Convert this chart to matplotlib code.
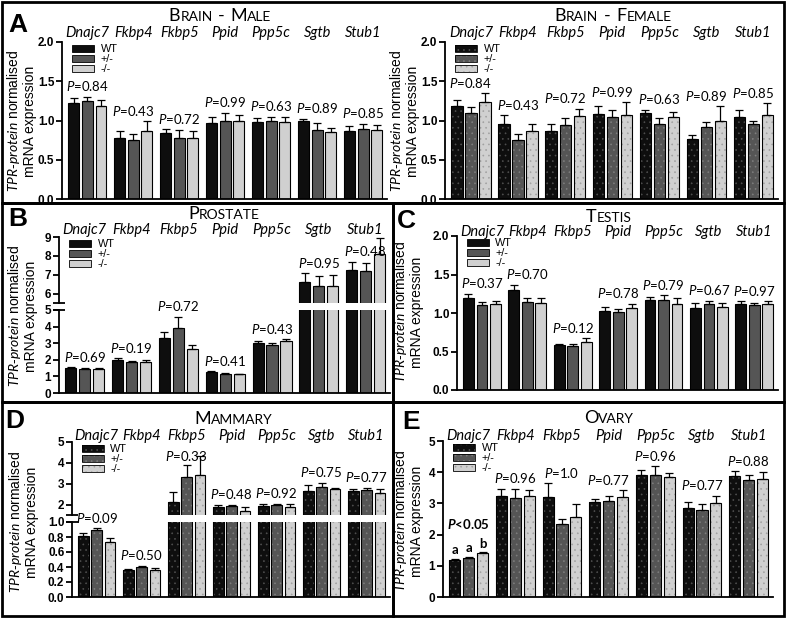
import numpy as np
import matplotlib
matplotlib.use("Agg")
import matplotlib.pyplot as plt
from matplotlib.patches import Patch, Rectangle
from matplotlib.offsetbox import TextArea, HPacker, AnnotationBbox
from matplotlib.transforms import blended_transform_factory

plt.rcParams['font.family'] = 'Liberation Sans'
plt.rcParams['mathtext.fontset'] = 'custom'
plt.rcParams['mathtext.rm'] = 'Lato'
plt.rcParams['mathtext.it'] = 'Lato:italic'
plt.rcParams['mathtext.bf'] = 'Lato:bold'
plt.rcParams['mathtext.bfit'] = 'Lato:italic:bold'
plt.rcParams['hatch.linewidth'] = 0.45

W, H = 787, 618

genes = ["Dnajc7", "Fkbp4", "Fkbp5", "Ppid", "Ppp5c", "Sgtb", "Stub1"]
genotypes = ["WT", "+/-", "-/-"]

# rows: WT, +/-, -/-
brain_male_mean = [[1.22, 0.78, 0.84, 0.97, 0.98, 0.99, 0.87],
                   [1.25, 0.75, 0.78, 1.00, 0.99, 0.88, 0.89],
                   [1.19, 0.87, 0.78, 1.00, 0.98, 0.85, 0.88]]
brain_male_sem = [[0.07, 0.08, 0.05, 0.08, 0.05, 0.03, 0.06],
                  [0.05, 0.08, 0.10, 0.10, 0.05, 0.09, 0.07],
                  [0.07, 0.12, 0.09, 0.07, 0.07, 0.06, 0.06]]
brain_male_p = ["0.84", "0.43", "0.72", "0.99", "0.63", "0.89", "0.85"]

brain_female_mean = [[1.19, 0.96, 0.87, 1.08, 1.09, 0.76, 1.05],
                     [1.09, 0.75, 0.94, 1.04, 0.96, 0.92, 0.96],
                     [1.23, 0.86, 1.06, 1.07, 1.05, 1.00, 1.07]]
brain_female_sem = [[0.07, 0.11, 0.09, 0.10, 0.05, 0.05, 0.09],
                    [0.08, 0.08, 0.09, 0.09, 0.07, 0.06, 0.04],
                    [0.12, 0.10, 0.09, 0.16, 0.06, 0.18, 0.15]]
brain_female_p = ["0.84", "0.43", "0.72", "0.99", "0.63", "0.89", "0.85"]

prostate_mean = [[1.50, 1.96, 3.30, 1.24, 3.00, 6.60, 7.25],
                 [1.44, 1.86, 3.94, 1.14, 2.90, 6.38, 7.22],
                 [1.42, 1.84, 2.66, 1.14, 3.14, 6.38, 8.10]]
prostate_sem = [[0.06, 0.12, 0.40, 0.08, 0.14, 0.49, 0.42],
                [0.08, 0.08, 0.66, 0.04, 0.10, 0.57, 0.38],
                [0.08, 0.16, 0.24, 0.02, 0.10, 0.62, 0.83]]
prostate_p = ["0.69", "0.19", "0.72", "0.41", "0.43", "0.95", "0.48"]

testis_mean = [[1.19, 1.30, 0.59, 1.02, 1.17, 1.06, 1.12],
               [1.10, 1.14, 0.57, 1.01, 1.17, 1.12, 1.11],
               [1.12, 1.13, 0.62, 1.06, 1.12, 1.08, 1.12]]
testis_sem = [[0.06, 0.07, 0.01, 0.06, 0.04, 0.07, 0.03],
              [0.04, 0.06, 0.03, 0.04, 0.06, 0.04, 0.02],
              [0.04, 0.07, 0.05, 0.06, 0.07, 0.05, 0.03]]
testis_p = ["0.37", "0.70", "0.12", "0.78", "0.79", "0.67", "0.97"]

mammary_mean = [[0.81, 0.36, 2.13, 1.88, 1.92, 2.63, 2.66],
                [0.89, 0.40, 3.30, 1.92, 1.97, 2.86, 2.70],
                [0.74, 0.36, 3.43, 1.68, 1.90, 2.74, 2.55]]
mammary_sem = [[0.05, 0.02, 0.45, 0.08, 0.13, 0.30, 0.10],
               [0.03, 0.02, 0.60, 0.07, 0.04, 0.18, 0.10],
               [0.05, 0.03, 0.89, 0.20, 0.15, 0.07, 0.18]]
mammary_p = ["0.09", "0.50", "0.33", "0.48", "0.92", "0.75", "0.77"]

ovary_mean = [[1.19, 3.23, 3.20, 3.05, 3.90, 2.85, 3.88],
              [1.25, 3.17, 2.33, 3.08, 3.92, 2.78, 3.76],
              [1.40, 3.25, 2.55, 3.22, 3.84, 3.00, 3.77]]
ovary_sem = [[0.02, 0.24, 0.45, 0.10, 0.18, 0.18, 0.15],
             [0.03, 0.30, 0.18, 0.15, 0.27, 0.20, 0.14],
             [0.03, 0.17, 0.42, 0.20, 0.12, 0.25, 0.24]]
ovary_p = ["<0.05", "0.96", "1.0", "0.77", "0.96", "0.77", "0.88"]
ovary_letters = ["a", "a", "b"]

fills = ["#0e0e0e", "#555555", "#d0d0d0"]
dot_colors = ["#505050", "#7e7e7e", "#a0a0a0"]
group_step = 3.36
bar_w = 0.8
ylabel_txt = r"$\mathit{TPR}$-$\mathit{protein}$ normalised" + "\nmRNA expression"

fig = plt.figure(figsize=(W / 100, H / 100), dpi=100)


def px_rect(x0, y0, x1, y1):
    return [x0 / W, 1 - y1 / H, (x1 - x0) / W, (y1 - y0) / H]


def style_axes(ax, ylim, ticks, fmt, bottom=True):
    ax.set_ylim(*ylim)
    ax.set_xlim(-1.85, 6 * group_step + 1.75)
    ax.set_yticks(ticks)
    ax.set_yticklabels([fmt % t for t in ticks], fontsize=8.5, fontweight='bold')
    ax.set_xticks([])
    for s in ['top', 'right']:
        ax.spines[s].set_visible(False)
    ax.spines['left'].set_linewidth(1.3)
    ax.spines['bottom'].set_linewidth(1.3)
    ax.spines['bottom'].set_visible(bottom)
    ax.tick_params(axis='y', length=4, width=1.3, pad=1.5)
    ax.patch.set_alpha(0)


def draw_bars(ax, mean, sem, dots):
    gx = np.arange(len(genes)) * group_step
    for k in range(3):
        x = gx + (k - 1)
        m = np.array(mean[k])
        e = np.array(sem[k])
        if dots:
            ax.bar(x, m, bar_w, color=fills[k], edgecolor=dot_colors[k], hatch='...', linewidth=0)
            ax.bar(x, m, bar_w, fill=False, edgecolor='black', linewidth=0.8)
        else:
            ax.bar(x, m, bar_w, color=fills[k], edgecolor='black', linewidth=0.8)
        ax.errorbar(x, m, yerr=[np.zeros_like(e), e], fmt='none', ecolor='black',
                    elinewidth=0.9, capsize=2.6, capthick=0.9)


def add_legend(ax, dots):
    handles = []
    for k in range(3):
        if dots:
            handles.append((Patch(facecolor=fills[k], edgecolor=dot_colors[k], hatch='...', linewidth=0),
                            Patch(fill=False, edgecolor='black', linewidth=0.6)))
        else:
            handles.append(Patch(facecolor=fills[k], edgecolor='black', linewidth=0.6))
    ax.legend(handles, genotypes, loc='upper left', bbox_to_anchor=(0.025, 1.0), frameon=False,
              fontsize=7.8, handlelength=2.0, handleheight=0.6, labelspacing=0.0,
              handletextpad=0.6, borderpad=0.1, borderaxespad=0.1)


def smallcaps(text, cx, by):
    words = []
    for w in text.split(" "):
        parts = [TextArea(w[0].upper(), textprops=dict(fontsize=13, family='Lato'))]
        if len(w) > 1:
            parts.append(TextArea(w[1:].upper(), textprops=dict(fontsize=10, family='Lato')))
        words.append(HPacker(children=parts, align="baseline", pad=0, sep=0))
    box = HPacker(children=words, align="baseline", pad=0, sep=4)
    ab = AnnotationBbox(box, (cx, H - by - 3), xycoords='figure pixels', frameon=False,
                        box_alignment=(0.5, 0.0), pad=0)
    fig.add_artist(ab)


def p_labels(axes_for, top_ax, mean, sem, pvals, letters=None):
    gx = np.arange(len(genes)) * group_step
    tops = (np.array(mean) + np.array(sem)).max(axis=0)
    for i, p in enumerate(pvals):
        ax = axes_for(tops[i])
        y = tops[i]
        if ax is top_ax:
            # keep the label under the gene names: ~24 px of room above the anchor
            y0, y1 = ax.get_ylim()
            unit_px = ax.get_position().height * H / (y1 - y0)
            y = min(y, y1 - 24 / unit_px)
        extra = 0
        if letters is not None and i == 0:
            for k in range(3):
                yk = mean[k][0] + sem[k][0]
                ax.annotate(letters[k], (gx[0] + k - 1, yk), xytext=(0, 2), textcoords='offset points',
                            ha='center', va='bottom', fontsize=9.5, family='Lato', fontweight='bold')
            extra = 13
        if p.startswith("<"):
            s = r"$\mathbfit{P}$" + p
            wt = 'bold'
        else:
            s = r"$\mathit{P}$=" + p
            wt = 'normal'
        ax.annotate(s, (gx[i], y), xytext=(0, 2.5 + extra), textcoords='offset points',
                    ha='center', va='bottom', fontsize=9.5, family='Lato', fontweight=wt,
                    annotation_clip=False)


def gene_labels(ax, y_px):
    tr = blended_transform_factory(ax.transData, fig.transFigure)
    gx = np.arange(len(genes)) * group_step
    for i, g in enumerate(genes):
        ax.text(gx[i], 1 - y_px / H, g, transform=tr, ha='center', va='center',
                fontsize=10.5, family='Lato', style='italic')


def break_marks(ax_top, ax_bot):
    ax_top.plot([0], [0], marker='_', ms=8, mew=1.3, color='black',
                transform=ax_top.transAxes, clip_on=False)
    ax_bot.plot([0], [1], marker='_', ms=8, mew=1.3, color='black',
                transform=ax_bot.transAxes, clip_on=False)


simple_panels = [
    dict(title="Brain - Male", mean=brain_male_mean, sem=brain_male_sem, p=brain_male_p, dots=False,
         rect=(62, 42, 387, 199), ylim=(0, 2), ticks=[0, 0.5, 1.0, 1.5, 2.0], fmt="%.1f",
         title_pos=(220, 21), ylab=(21, 121), gene_y=33),
    dict(title="Brain - Female", mean=brain_female_mean, sem=brain_female_sem, p=brain_female_p, dots=True,
         rect=(445, 42, 778, 199), ylim=(0, 2), ticks=[0, 0.5, 1.0, 1.5, 2.0], fmt="%.1f",
         title_pos=(613, 21), ylab=(404, 121), gene_y=33),
    dict(title="Testis", mean=testis_mean, sem=testis_sem, p=testis_p, dots=False,
         rect=(457, 236, 778, 390), ylim=(0, 2), ticks=[0, 0.5, 1.0, 1.5, 2.0], fmt="%.1f",
         title_pos=(609, 222), ylab=(408, 312), gene_y=232),
    dict(title="Ovary", mean=ovary_mean, sem=ovary_sem, p=ovary_p, dots=True, letters=ovary_letters,
         rect=(443, 441, 773, 597), ylim=(0, 5), ticks=[0, 1, 2, 3, 4, 5], fmt="%d",
         title_pos=(609, 423), ylab=(408, 521), gene_y=436),
]

broken_panels = [
    dict(title="Prostate", mean=prostate_mean, sem=prostate_sem, p=prostate_p, dots=False,
         top=(59, 237, 390, 303), top_ylim=(5.5, 9), top_ticks=[6, 7, 8, 9], top_fmt="%d",
         bot=(59, 310, 390, 393), bot_ylim=(0, 5), bot_ticks=[0, 1, 2, 3, 4, 5], bot_fmt="%d",
         title_pos=(224, 219), ylab=(22, 316), gene_y=230),
    dict(title="Mammary", mean=mammary_mean, sem=mammary_sem, p=mammary_p, dots=True,
         top=(72, 442, 390, 515), top_ylim=(1.5, 5), top_ticks=[2, 3, 4, 5], top_fmt="%d",
         bot=(72, 522, 390, 597), bot_ylim=(0, 1.0), bot_ticks=[0, 0.2, 0.4, 0.6, 0.8, 1.0], bot_fmt="%.1f",
         title_pos=(233, 424), ylab=(23, 522), gene_y=436),
]

for P in simple_panels:
    ax = fig.add_axes(px_rect(*P['rect']))
    style_axes(ax, P['ylim'], P['ticks'], P['fmt'])
    draw_bars(ax, P['mean'], P['sem'], P['dots'])
    add_legend(ax, P['dots'])
    p_labels(lambda t, a=ax: a, ax, P['mean'], P['sem'], P['p'], P.get('letters'))
    gene_labels(ax, P['gene_y'])
    smallcaps(P['title'], *P['title_pos'])
    fig.text(P['ylab'][0] / W, 1 - P['ylab'][1] / H, ylabel_txt, rotation=90, ha='center', va='center',
             fontsize=10, multialignment='center', linespacing=1.05)

for P in broken_panels:
    ax_t = fig.add_axes(px_rect(*P['top']))
    ax_b = fig.add_axes(px_rect(*P['bot']))
    style_axes(ax_t, P['top_ylim'], P['top_ticks'], P['top_fmt'], bottom=False)
    style_axes(ax_b, P['bot_ylim'], P['bot_ticks'], P['bot_fmt'])
    for a in (ax_t, ax_b):
        draw_bars(a, P['mean'], P['sem'], P['dots'])
    break_marks(ax_t, ax_b)
    add_legend(ax_t, P['dots'])
    lim = P['bot_ylim'][1]
    p_labels(lambda t, at=ax_t, ab=ax_b, l=lim: at if t > l else ab, ax_t,
             P['mean'], P['sem'], P['p'])
    gene_labels(ax_t, P['gene_y'])
    smallcaps(P['title'], *P['title_pos'])
    fig.text(P['ylab'][0] / W, 1 - P['ylab'][1] / H, ylabel_txt, rotation=90, ha='center', va='center',
             fontsize=10, multialignment='center', linespacing=1.05)

# panel frames and letters
frames = [(2, 2, 784, 203), (2, 203, 393, 402), (393, 203, 784, 402), (2, 402, 393, 616), (393, 402, 784, 616)]
for x0, y0, x1, y1 in frames:
    fig.add_artist(Rectangle((x0 / W, 1 - y1 / H), (x1 - x0) / W, (y1 - y0) / H, transform=fig.transFigure,
                             fill=False, edgecolor='black', linewidth=2))

letters = [("A", 8, 32), ("B", 8, 226), ("C", 397, 228), ("D", 5, 428), ("E", 402, 429)]
for t, x, y in letters:
    fig.text(x / W, 1 - y / H, t, fontsize=19, fontweight='bold', va='baseline', ha='left')

fig.savefig("out.png", dpi=100)
